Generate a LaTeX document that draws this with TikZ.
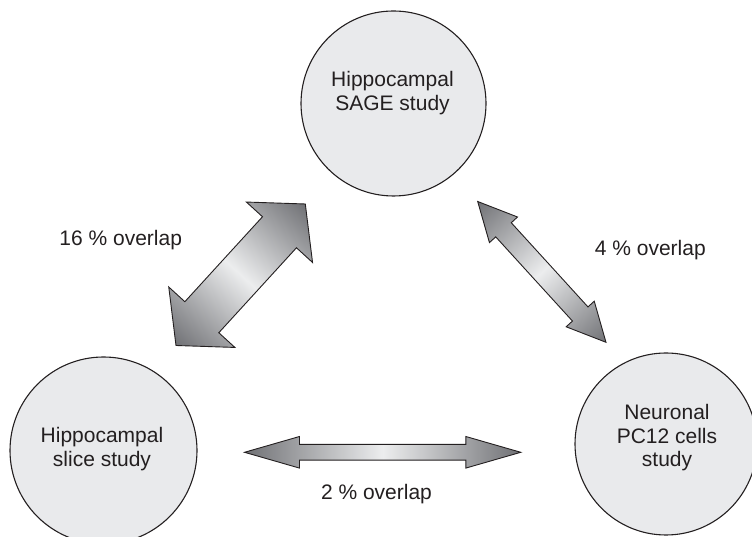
\documentclass[tikz,border=0pt]{standalone}
\usepackage{fontspec}
\setmainfont{Liberation Sans}
\definecolor{inkc}{RGB}{35,31,32}
\definecolor{circfill}{RGB}{233,234,236}
\definecolor{arrdark}{RGB}{112,113,117}
\definecolor{arrlight}{RGB}{236,237,238}
\newcommand{\myDblArrow}[4]{% half length, head length, head half width, shaft half width
  \shade[blockarrow] (-#1,0) -- (-#1+#2,#3) -- (-#1+#2,#4) -- (#1-#2,#4) -- (#1-#2,#3) -- (#1,0)
    -- (#1-#2,-#3) -- (#1-#2,-#4) -- (-#1+#2,-#4) -- (-#1+#2,-#3) -- cycle;}
\tikzset{
  study/.style={circle, draw=inkc, line width=1.1pt, fill=circfill, inner sep=0pt},
  studytext/.style={align=center, inner sep=0pt, text=inkc, font=\fontsize{21}{23.6}\selectfont},
  lbl/.style={inner sep=0pt, text=inkc, font=\fontsize{21}{23.6}\selectfont},
  blockarrow/.style={draw=inkc, line width=0.9pt, line join=miter,
    left color=arrdark, right color=arrdark, middle color=arrlight}
}
\begin{document}
\begin{tikzpicture}[x=1pt, y=1pt]
\useasboundingbox (0,0) rectangle (752,537);
\clip (0,0) rectangle (752,537);
% circles
\node[study, minimum size=185pt] (sage) at (393.5,433.5) {};
\node[study, minimum size=187pt] (slice) at (103.5,86.5) {};
\node[study, minimum size=182pt] (pc12) at (666,93) {};
\node[studytext] (sagetxt) at ([xshift=-1pt, yshift=10.2pt]sage.center) {Hippocampal\\SAGE study};
\node[studytext] (slicetxt) at ([xshift=-1.5pt, yshift=1.3pt]slice.center) {Hippocampal\\slice study};
\node[studytext] (pc12txt) at ([xshift=1pt, yshift=6.1pt]pc12.center) {Neuronal\\PC12 cells\\study};
% overlap arrows
\begin{scope}[transform canvas={shift={(240.65,262.25)}, rotate=47.58}]
  \myDblArrow{95.85}{38.3}{44.8}{23}
\end{scope}
\begin{scope}[transform canvas={shift={(541.85,265.1)}, rotate=-47.66}]
  \myDblArrow{95.25}{38.3}{19}{10.5}
\end{scope}
\begin{scope}[transform canvas={shift={(382.65,84.7)}}]
  \myDblArrow{138.15}{55}{15.8}{7.9}
\end{scope}
% labels
\node[lbl] (l16) at (120.7,296.5) {16 \% overlap};
\node[lbl] (l4) at (650.3,287) {4 \% overlap};
\node[lbl] (l2) at (376.5,42.5) {2 \% overlap};
\end{tikzpicture}
\end{document}
